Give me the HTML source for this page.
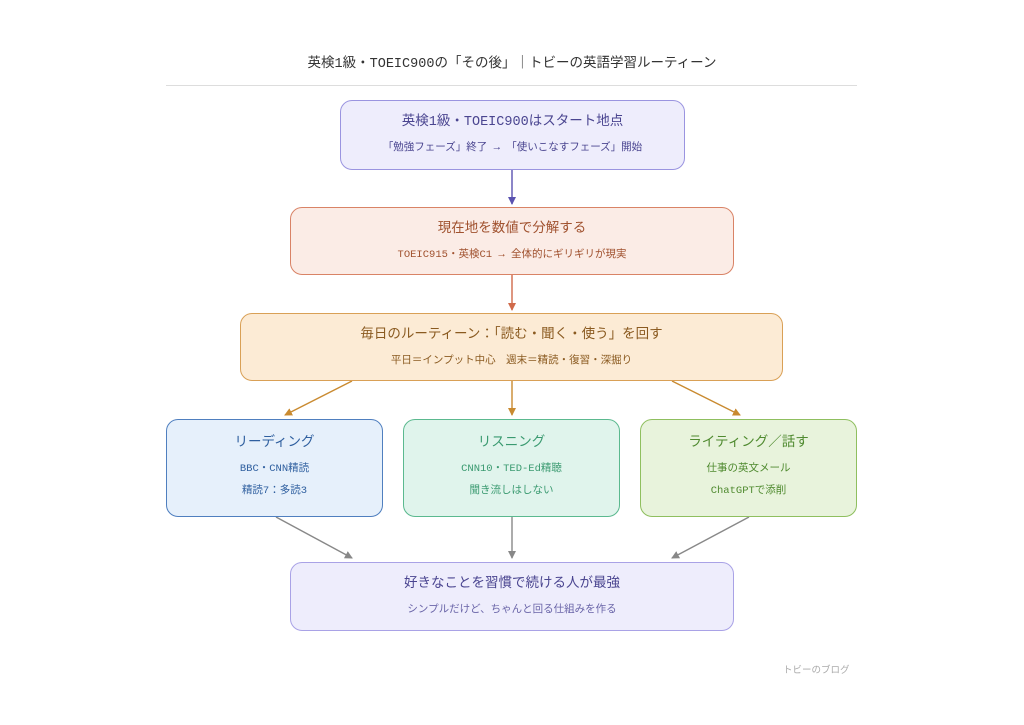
<!DOCTYPE html>
<html><head><meta charset="utf-8"><style>
body{margin:0;width:1024px;height:725px;background:#fff;font-family:"Liberation Mono","Noto Sans CJK JP",monospace;position:relative;overflow:hidden}
.t{position:absolute;left:0;width:1024px;top:51px;text-align:center;font-size:13.5px;color:#333}
.hr{position:absolute;left:166px;width:691px;top:85px;height:1px;background:#ddd}
.b{position:absolute;box-sizing:border-box;border:1.3px solid;border-radius:12px;text-align:center}
.b .h{font-size:13.5px;margin-top:8px}
.b .s{font-size:10.5px;margin-top:9px}
.b .s2{font-size:10.5px;margin-top:7px}
.f{position:absolute;left:783px;top:662px;font-size:9.5px;color:#aaa}
svg{position:absolute;left:0;top:0}
</style></head><body>
<div class="t">英検1級・TOEIC900の「その後」｜トビーの英語学習ルーティーン</div>
<div class="hr"></div>
<svg width="1024" height="725">
<defs>
<marker id="p" markerWidth="8" markerHeight="8" refX="7" refY="4" orient="auto" markerUnits="userSpaceOnUse"><path d="M0,0L8,4L0,8z" fill="#5a52b0"/></marker>
<marker id="r" markerWidth="8" markerHeight="8" refX="7" refY="4" orient="auto" markerUnits="userSpaceOnUse"><path d="M0,0L8,4L0,8z" fill="#d06a4a"/></marker>
<marker id="o" markerWidth="8" markerHeight="8" refX="7" refY="4" orient="auto" markerUnits="userSpaceOnUse"><path d="M0,0L8,4L0,8z" fill="#c98a30"/></marker>
<marker id="g" markerWidth="8" markerHeight="8" refX="7" refY="4" orient="auto" markerUnits="userSpaceOnUse"><path d="M0,0L8,4L0,8z" fill="#888"/></marker>
</defs>
<g stroke-width="1.4" fill="none">
<line x1="512" y1="170" x2="512" y2="204" stroke="#5a52b0" marker-end="url(#p)"/>
<line x1="512" y1="275" x2="512" y2="310" stroke="#d06a4a" marker-end="url(#r)"/>
<line x1="352" y1="381" x2="285" y2="415" stroke="#c98a30" marker-end="url(#o)"/>
<line x1="512" y1="381" x2="512" y2="415" stroke="#c98a30" marker-end="url(#o)"/>
<line x1="672" y1="381" x2="740" y2="415" stroke="#c98a30" marker-end="url(#o)"/>
<line x1="276" y1="517" x2="352" y2="558" stroke="#888" marker-end="url(#g)"/>
<line x1="512" y1="517" x2="512" y2="558" stroke="#888" marker-end="url(#g)"/>
<line x1="749" y1="517" x2="672" y2="558" stroke="#888" marker-end="url(#g)"/>
</g></svg>
<div class="b" style="left:340px;top:100px;width:345px;height:70px;background:#eeedfc;border-color:#9a94e0;color:#4a4590"><div class="h">英検1級・TOEIC900はスタート地点</div><div class="s">「勉強フェーズ」終了 → 「使いこなすフェーズ」開始</div></div>
<div class="b" style="left:290px;top:207px;width:444px;height:68px;background:#fbece6;border-color:#d98366;color:#a0512e"><div class="h">現在地を数値で分解する</div><div class="s">TOEIC915・英検C1 → 全体的にギリギリが現実</div></div>
<div class="b" style="left:240px;top:313px;width:543px;height:68px;background:#fcebd5;border-color:#d9a056;color:#8a5a20"><div class="h">毎日のルーティーン：「読む・聞く・使う」を回す</div><div class="s">平日＝インプット中心　週末＝精読・復習・深掘り</div></div>
<div class="b" style="left:166px;top:419px;width:217px;height:98px;background:#e6f0fb;border-color:#4f7fbf;color:#2f5f9f"><div class="h" style="margin-top:10px">リーディング</div><div class="s">BBC・CNN精読</div><div class="s2">精読7：多読3</div></div>
<div class="b" style="left:403px;top:419px;width:217px;height:98px;background:#e0f4ec;border-color:#5bb98f;color:#3a9a70"><div class="h" style="margin-top:10px">リスニング</div><div class="s">CNN10・TED-Ed精聴</div><div class="s2">聞き流しはしない</div></div>
<div class="b" style="left:640px;top:419px;width:217px;height:98px;background:#e8f3dc;border-color:#8fbf5f;color:#4f8a2f"><div class="h" style="margin-top:10px">ライティング／話す</div><div class="s">仕事の英文メール</div><div class="s2">ChatGPTで添削</div></div>
<div class="b" style="left:290px;top:562px;width:444px;height:69px;background:#eeedfc;border-color:#a9a2e6;color:#4a4590"><div class="h">好きなことを習慣で続ける人が最強</div><div class="s" style="color:#6a65a8">シンプルだけど、ちゃんと回る仕組みを作る</div></div>
<div class="f">トビーのブログ</div>
</body></html>
